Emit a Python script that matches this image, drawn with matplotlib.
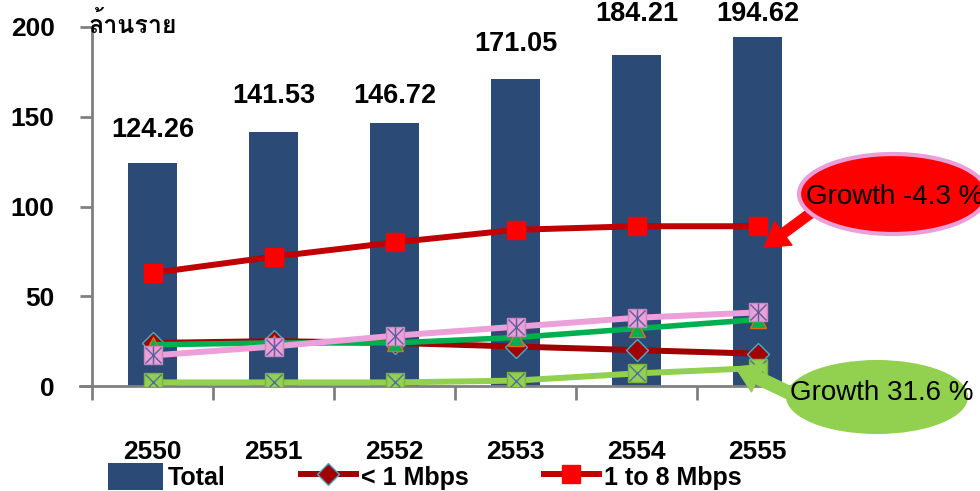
import matplotlib
matplotlib.use('Agg')
import matplotlib.pyplot as plt
from matplotlib import font_manager
from matplotlib.ft2font import FT2Font
from matplotlib.patches import Ellipse, FancyArrowPatch, Patch
from matplotlib.lines import Line2D
import numpy as np

# data (ล้านราย)
years = ['2550', '2551', '2552', '2553', '2554', '2555']
total = [124.26, 141.53, 146.72, 171.05, 184.21, 194.62]
below_1mbps = [24, 25, 24, 22, 20, 18]
mbps_1_8 = [63, 72, 80, 87, 89, 89]
series_green = [23, 24, 24, 27, 32, 37]
series_pink = [17, 22, 28, 33, 38, 41]
series_lime = [2, 2, 2, 3, 7, 10]
label_gap_px = [33, 36, 27, 35, 41, 23]
unit_label = 'ล้านราย'


def thai_families():
    found = []
    for f in font_manager.fontManager.ttflist:
        try:
            cmap = FT2Font(f.fname).get_charmap()
        except Exception:
            continue
        if 0x0E25 in cmap and f.name not in found:
            found.append(f.name)
    return found


plt.rcParams['font.family'] = ['Liberation Sans'] + thai_families() + ['DejaVu Sans']

W, H = 980, 491
fig = plt.figure(figsize=(W / 100, H / 100), dpi=100)
ax = fig.add_axes([92 / W, 1 - 386 / H, (818 - 92) / W, (386 - 27) / H])


def px(x, y):
    return (x / W, 1 - y / H)


x = np.arange(len(years))
navy = '#2C4A76'
ax.bar(x, total, width=0.4, color=navy, zorder=2)
for xi, v, g in zip(x, total, label_gap_px):
    ax.annotate(f'{v:.2f}', (xi, v), xytext=(0, g * 0.72), textcoords='offset points',
                ha='center', va='center', fontsize=19.5, fontweight='bold', zorder=6)

ax.plot(x, below_1mbps, color='#A00000', lw=4.3, marker='D', ms=11,
        mfc='#A00000', mec='#4BACC6', mew=1, zorder=3)
ax.plot(x, mbps_1_8, color='#C00000', lw=4.3, marker='s', ms=13,
        mfc='#FF0000', mec='#FF0000', zorder=3)
ax.plot(x, series_green, color='#00B050', lw=4, marker='^', ms=12,
        mfc='#00B050', mec='#E46C0A', mew=1, zorder=3)
ax.plot(x, series_pink, color='#EBA0DA', lw=4.3, marker='s', ms=13,
        mfc='#EBA0DA', mec='#C88AC0', zorder=4)
ax.plot(x, series_pink, ls='none', marker='x', ms=12, mec='#5B5F9A', mew=1, zorder=4)
ax.plot(x, series_pink, ls='none', marker='|', ms=13, mec='#5B5F9A', mew=1, zorder=4)
ax.plot(x, series_lime, color='#92D050', lw=4.3, marker='s', ms=13,
        mfc='#92D050', mec='#7FB040', zorder=4)
ax.plot(x, series_lime, ls='none', marker='x', ms=12, mec='#4F6F9F', mew=1, zorder=4)

ax.set_xlim(-0.5, 5.5)
ax.set_ylim(0, 200)
ax.set_yticks([0, 50, 100, 150, 200])
ax.set_xticks(np.arange(-0.5, 6, 1))
ax.set_xticklabels([])
ax.set_xticks(x, minor=True)
ax.set_xticklabels(years, minor=True)
ax.tick_params(axis='y', direction='out', length=9, width=2, color='#808080',
               labelsize=19, pad=18)
ax.tick_params(axis='x', which='major', direction='out', length=10, width=2,
               color='#808080')
ax.tick_params(axis='x', which='minor', length=0, labelsize=19, pad=39)
for lbl in ax.get_yticklabels() + ax.get_xticklabels(minor=True):
    lbl.set_fontweight('bold')
for s in ['top', 'right']:
    ax.spines[s].set_visible(False)
for s in ['left', 'bottom']:
    ax.spines[s].set_color('#808080')
    ax.spines[s].set_linewidth(2)
ax.spines['bottom'].set_bounds(-0.6, 5.5)

fig.text(*px(88, 25), unit_label, ha='left', va='center', fontsize=18,
         fontweight='bold')

# callouts
red_arrow = FancyArrowPatch(px(815, 210), px(762, 249), transform=fig.transFigure,
                            arrowstyle='simple,head_length=17,head_width=21,tail_width=7',
                            mutation_scale=1, color='#FF0000', zorder=7)
fig.add_artist(red_arrow)
fig.add_artist(Ellipse(px(893, 194), 188 / W, 80 / H, transform=fig.transFigure,
                       facecolor='#FF0000', edgecolor='#E9A0DA', lw=3, zorder=8))
fig.text(*px(806, 197), 'Growth -4.3 %', ha='left', va='center', fontsize=20, zorder=9)

lime_arrow = FancyArrowPatch(px(800, 398), px(733, 366), transform=fig.transFigure,
                             arrowstyle='simple,head_length=18,head_width=22,tail_width=9',
                             mutation_scale=1, color='#92D050', zorder=7)
fig.add_artist(lime_arrow)
fig.add_artist(Ellipse(px(877, 397), 182 / W, 74 / H, transform=fig.transFigure,
                       facecolor='#92D050', edgecolor='none', zorder=8))
fig.text(*px(790, 393), 'Growth 31.6 %', ha='left', va='center', fontsize=20, zorder=9)

handles = [
    Patch(facecolor=navy, label='Total'),
    Line2D([], [], color='#A00000', lw=4.3, marker='D', ms=11, mfc='#A00000',
           mec='#4BACC6', label='< 1 Mbps'),
    Line2D([], [], color='#C00000', lw=4.3, marker='s', ms=13, mfc='#FF0000',
           mec='#FF0000', label='1 to 8 Mbps'),
]
fig.legend(handles=handles, loc='upper left', bbox_to_anchor=px(108, 463), ncol=3,
           frameon=False, borderpad=0, borderaxespad=0, handlelength=2.2,
           handleheight=1.3, handletextpad=0.2, columnspacing=3.0,
           prop={'size': 18, 'weight': 'bold'})

fig.savefig('out.png', dpi=100)
